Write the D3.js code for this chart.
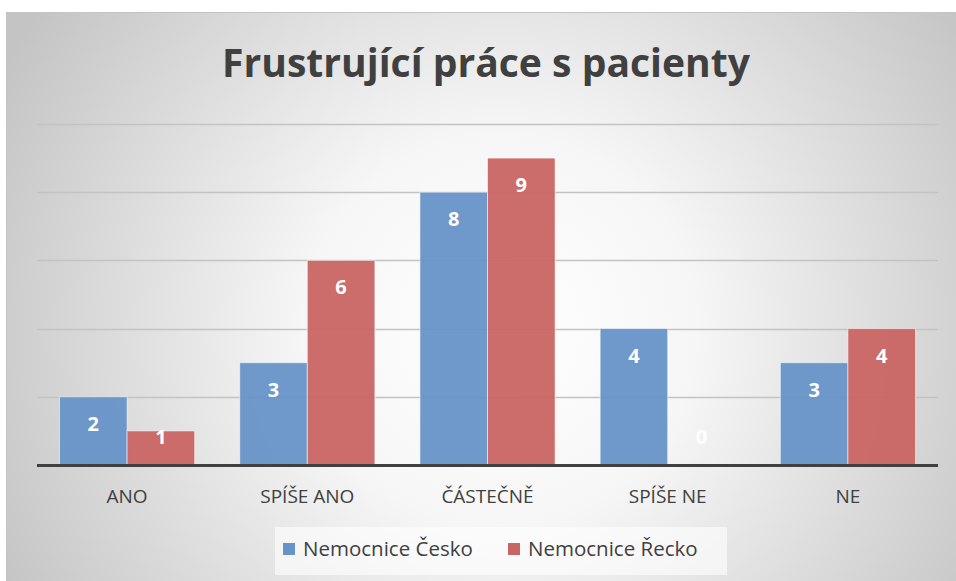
<!DOCTYPE html>
<html>
<head>
<meta charset="utf-8">
<script src="https://cdn.jsdelivr.net/npm/d3@7"></script>
<style>
  body { margin: 0; background: #fff; }
  svg { display: block; font-family: "Open Sans", "DejaVu Sans", sans-serif; }
</style>
</head>
<body>
<script>
var categories = ["ANO", "SPÍŠE ANO", "ČÁSTEČNĚ", "SPÍŠE NE", "NE"];
var seriesNames = ["Nemocnice Česko", "Nemocnice Řecko"];
var cesko = [2, 3, 8, 4, 3];
var recko = [1, 6, 9, 0, 4];
var gridTicks = [0, 2, 4, 6, 8, 10];
var colors = ["#6794c8", "#c96563"];

var width = 956, height = 581;
var margin = {top: 124, right: 18, bottom: 116, left: 37};

var svg = d3.select("body")
    .append("svg")
    .attr("width", width)
    .attr("height", height);

var defs = svg.append("defs");
var grad = defs.append("radialGradient")
    .attr("id", "bg")
    .attr("gradientUnits", "userSpaceOnUse")
    .attr("cx", 500).attr("cy", 330).attr("r", 560);
grad.append("stop").attr("offset", "0%").attr("stop-color", "#ffffff");
grad.append("stop").attr("offset", "35%").attr("stop-color", "#f6f6f6");
grad.append("stop").attr("offset", "100%").attr("stop-color", "#c4c4c4");

// chart area
svg.append("rect")
    .attr("x", 6.5).attr("y", 12.5)
    .attr("width", width - 6).attr("height", height - 12)
    .attr("fill", "url(#bg)")
    .attr("stroke", "#c4c4c4");

var x0 = d3.scaleBand()
    .domain(categories)
    .range([margin.left, width - margin.right])
    .paddingInner(0.25)
    .paddingOuter(0.125);

var x1 = d3.scaleBand()
    .domain([0, 1])
    .range([0, x0.bandwidth()]);

var y = d3.scaleLinear()
    .domain([0, 10])
    .range([height - margin.bottom, margin.top]);

// gridlines
svg.append("g")
    .attr("class", "grid")
    .selectAll("line")
    .data(gridTicks.slice(1))
    .enter()
        .append("line")
        .attr("x1", margin.left)
        .attr("x2", width - margin.right)
        .attr("y1", function(d) { return Math.round(y(d)) + 0.5; })
        .attr("y2", function(d) { return Math.round(y(d)) + 0.5; })
        .attr("stroke", "#c3c3c3")
        .attr("stroke-width", 1.5);

// title, squeezed to the width of the original
var title = svg.append("text")
    .attr("y", 77)
    .attr("text-anchor", "middle")
    .attr("font-size", 40)
    .attr("font-weight", "bold")
    .attr("fill", "#404040")
    .text("Frustrující práce s pacienty");
var tw = title.node().getComputedTextLength(),
    sx = 528 / tw;
title.attr("transform", "translate(486,0) scale(" + sx + ",1)");

var rows = categories.map(function(c, i) {
    return {cat: c, values: [cesko[i], recko[i]]};
});

var group = svg.append("g")
    .attr("class", "bars")
    .selectAll(".group")
    .data(rows)
    .enter()
        .append("g")
        .attr("class", "group")
        .attr("transform", function(d) { return "translate(" + x0(d.cat) + ",0)"; });

group.selectAll("rect")
    .data(function(d) { return d.values.map(function(v, s) { return {v: v, s: s}; }); })
    .enter()
        .append("rect")
        .attr("x", function(d) { return x1(d.s); })
        .attr("y", function(d) { return y(d.v); })
        .attr("width", x1.bandwidth())
        .attr("height", function(d) { return y(0) - y(d.v); })
        .attr("fill", function(d) { return colors[d.s]; })
        .attr("fill-opacity", 0.95)
        .attr("stroke", "rgba(255,255,255,0.55)")
        .attr("stroke-width", 1);

group.selectAll("text")
    .data(function(d) { return d.values.map(function(v, s) { return {v: v, s: s}; }); })
    .enter()
        .append("text")
        .attr("x", function(d) { return x1(d.s) + x1.bandwidth() / 2; })
        .attr("y", function(d) { return Math.min(y(d.v) + 34, y(0) - 21); })
        .attr("text-anchor", "middle")
        .attr("font-size", 20)
        .attr("font-weight", "bold")
        .attr("fill", "#ffffff")
        .text(function(d) { return d.v; });

// baseline
svg.append("line")
    .attr("x1", margin.left)
    .attr("x2", width - margin.right)
    .attr("y1", y(0) + 0.5)
    .attr("y2", y(0) + 0.5)
    .attr("stroke", "#404040")
    .attr("stroke-width", 3);

// category labels
var xAxis = svg.append("g")
    .attr("transform", "translate(0," + (y(0) + 2) + ")")
    .call(d3.axisBottom(x0).tickSize(0).tickPadding(23));
xAxis.select(".domain").remove();
xAxis.selectAll("text")
    .attr("font-family", "\"Open Sans\", sans-serif")
    .attr("font-size", 19)
    .attr("fill", "#404040");

// legend
var legend = svg.append("g").attr("class", "legend");
legend.append("rect")
    .attr("x", 275).attr("y", 527)
    .attr("width", 452).attr("height", 48)
    .attr("fill", "#ffffff")
    .attr("fill-opacity", 0.6);

var legendX = [283, 508];
var item = legend.selectAll(".item")
    .data(seriesNames)
    .enter()
        .append("g")
        .attr("class", "item")
        .attr("transform", function(d, i) { return "translate(" + legendX[i] + ",543)"; });
item.append("rect")
    .attr("width", 12).attr("height", 12)
    .attr("fill", function(d, i) { return colors[i]; });
item.append("text")
    .attr("x", 20)
    .attr("y", 13)
    .attr("font-size", 20.5)
    .attr("fill", "#404040")
    .text(function(d) { return d; });
</script>
</body>
</html>
